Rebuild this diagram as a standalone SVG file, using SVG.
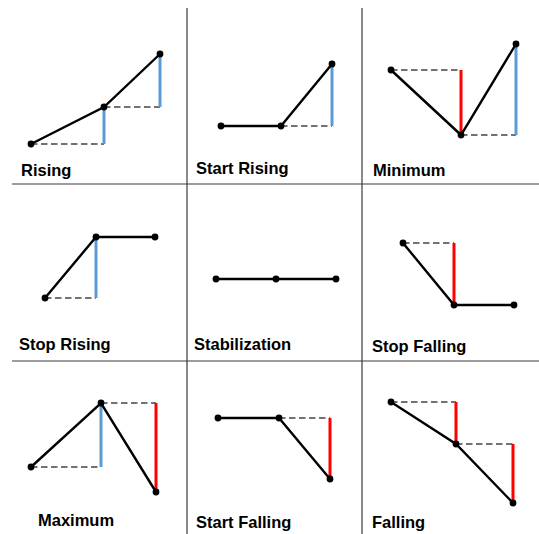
<svg xmlns="http://www.w3.org/2000/svg" width="539" height="534" viewBox="0 0 539 534">
<style>
.grid{stroke:#3a3a3a;stroke-width:1.2;fill:none}
.ln{stroke:#000;stroke-width:2.4;fill:none;stroke-linecap:round}
.ds{stroke:#444;stroke-width:1.3;stroke-dasharray:6.5 3.5;fill:none}
.bl{stroke:#5B9BD5;stroke-width:3;fill:none}
.rd{stroke:#FF0000;stroke-width:3;fill:none}
.dot{fill:#000}
.lbl{font-family:"Liberation Sans",Arial,sans-serif;font-weight:bold;font-size:16.5px;fill:#000}
</style>
<rect width="539" height="534" fill="#fff"/>
<g id="grid">
<line class="grid" x1="187" y1="8" x2="187" y2="534"/>
<line class="grid" x1="362" y1="8" x2="362" y2="534"/>
<line class="grid" x1="12" y1="184" x2="539" y2="184"/>
<line class="grid" x1="12" y1="361" x2="539" y2="361"/>
</g>
<g id="connectors">
<!-- Rising -->
<path class="ds" d="M31 144H104M104 107H160"/>
<path class="bl" d="M104 107V144M160 54V107"/>
<path class="ln" d="M31 144L104 107L160 54"/>
<!-- Start Rising -->
<path class="ds" d="M281 126H332"/>
<path class="bl" d="M332 64V126"/>
<path class="ln" d="M221 126H281L332 64"/>
<!-- Minimum -->
<path class="ds" d="M391 70H461M461 135H516"/>
<path class="rd" d="M461 70V135"/>
<path class="bl" d="M516 44V135"/>
<path class="ln" d="M391 70L461 135L516 44"/>
<!-- Stop Rising -->
<path class="ds" d="M45 298H96"/>
<path class="bl" d="M96 237V298"/>
<path class="ln" d="M45 298L96 237H155"/>
<!-- Stabilization -->
<path class="ln" d="M216 279H336"/>
<!-- Stop Falling -->
<path class="ds" d="M403 243H454"/>
<path class="rd" d="M454 243V305"/>
<path class="ln" d="M403 243L454 305H514"/>
<!-- Maximum -->
<path class="ds" d="M31 467H101M101 403H156"/>
<path class="bl" d="M101 403V467"/>
<path class="rd" d="M156 403V492"/>
<path class="ln" d="M31 467L101 403L156 492"/>
<!-- Start Falling -->
<path class="ds" d="M279 418H330"/>
<path class="rd" d="M330 418V479"/>
<path class="ln" d="M218 418H279L330 479"/>
<!-- Falling -->
<path class="ds" d="M391 402H456M456 444H513"/>
<path class="rd" d="M456 402V444M513 444V503"/>
<path class="ln" d="M391 402L456 444L513 503"/>
</g>
<g id="rising">
<circle class="dot" cx="31" cy="144" r="3.4"/><circle class="dot" cx="104" cy="107" r="3.4"/><circle class="dot" cx="160" cy="54" r="3.4"/>
<text class="lbl" x="21" y="176">Rising</text>
</g>
<g id="start-rising">
<circle class="dot" cx="221" cy="126" r="3.4"/><circle class="dot" cx="281" cy="126" r="3.4"/><circle class="dot" cx="332" cy="64" r="3.4"/>
<text class="lbl" x="196" y="174">Start Rising</text>
</g>
<g id="minimum">
<circle class="dot" cx="391" cy="70" r="3.4"/><circle class="dot" cx="461" cy="135" r="3.4"/><circle class="dot" cx="516" cy="44" r="3.4"/>
<text class="lbl" x="373" y="176">Minimum</text>
</g>
<g id="stop-rising">
<circle class="dot" cx="45" cy="298" r="3.4"/><circle class="dot" cx="96" cy="237" r="3.4"/><circle class="dot" cx="155" cy="237" r="3.4"/>
<text class="lbl" x="19" y="350">Stop Rising</text>
</g>
<g id="stabilization">
<circle class="dot" cx="216" cy="279" r="3.4"/><circle class="dot" cx="276" cy="279" r="3.4"/><circle class="dot" cx="336" cy="279" r="3.4"/>
<text class="lbl" x="194" y="350">Stabilization</text>
</g>
<g id="stop-falling">
<circle class="dot" cx="403" cy="243" r="3.4"/><circle class="dot" cx="454" cy="305" r="3.4"/><circle class="dot" cx="514" cy="305" r="3.4"/>
<text class="lbl" x="372" y="352">Stop Falling</text>
</g>
<g id="maximum">
<circle class="dot" cx="31" cy="467" r="3.4"/><circle class="dot" cx="101" cy="403" r="3.4"/><circle class="dot" cx="156" cy="492" r="3.4"/>
<text class="lbl" x="38" y="526">Maximum</text>
</g>
<g id="start-falling">
<circle class="dot" cx="218" cy="418" r="3.4"/><circle class="dot" cx="279" cy="418" r="3.4"/><circle class="dot" cx="330" cy="479" r="3.4"/>
<text class="lbl" x="196" y="528">Start Falling</text>
</g>
<g id="falling">
<circle class="dot" cx="391" cy="402" r="3.4"/><circle class="dot" cx="456" cy="444" r="3.4"/><circle class="dot" cx="513" cy="503" r="3.4"/>
<text class="lbl" x="372" y="528">Falling</text>
</g>
</svg>
